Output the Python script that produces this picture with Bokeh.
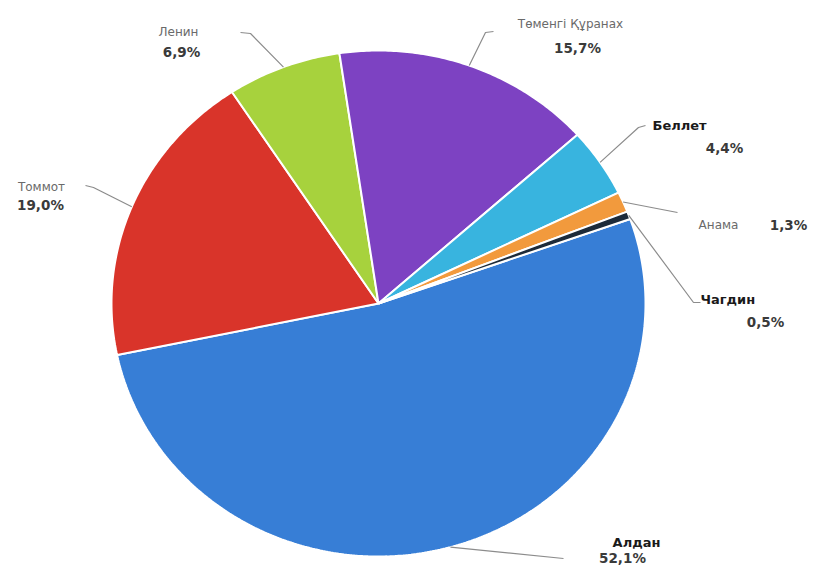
import numpy as np
from bokeh.plotting import figure
from bokeh.models import Range1d
from bokeh.core.properties import value
from bokeh.embed import file_html
from bokeh.resources import INLINE

# ---- data ----
names = ["Алдан", "Томмот", "Ленин", "Төменгі Құранах", "Беллет", "Анама", "Чагдин"]
shares = [52.1, 19.0, 6.9, 15.7, 4.4, 1.3, 0.5]
pct_labels = ["52,1%", "19,0%", "6,9%", "15,7%", "4,4%", "1,3%", "0,5%"]
colors = ["#377ed6", "#d9342a", "#a7d23d", "#7d42c2", "#38b4df", "#f29a3d", "#1d2b3a"]
name_bold = [True, False, False, False, True, False, True]

# ---- layout (pixel coords inside the plot, y down) ----
W, H = 810, 567
CX, CY, RX, RY = 378, 303, 267, 253
START_DEG = 19.5  # first slice starts here, slices go clockwise

# label layout: (name x, name y, name align, pct x, pct y, pct align)
label_pos = [
    (636, 542, "center", 622, 557, "center"),
    (41, 186, "center", 40, 204, "center"),
    (178, 31, "center", 181, 51, "center"),
    (570, 23, "center", 577, 47, "center"),
    (652, 125, "left", 724, 147, "center"),
    (718, 224, "center", 788, 224, "center"),
    (700, 299, "left", 765, 321, "center"),
]
# leader line: points after the start point on the slice edge
leader_pts = [
    [(563, 558)],
    [(93, 187), (85, 185)],
    [(250, 33), (240, 32)],
    [(485, 32), (493, 31)],
    [(638, 127), (645, 125)],
    [(677, 212)],
    [(693, 302), (700, 302)],
]

p = figure(width=W, height=H, output_backend="svg", toolbar_location=None,
           x_range=Range1d(0, W), y_range=Range1d(H, 0), min_border=0)
p.axis.visible = False
p.grid.visible = False
p.outline_line_color = None
p.background_fill_color = "white"
p.border_fill_color = "white"

total = sum(shares)
xs, ys, mids = [], [], []
a = np.radians(START_DEG)
for s in shares:
    span = 2 * np.pi * s / total
    t = np.linspace(a, a - span, max(3, int(span / 0.01)))
    xs.append([CX] + list(CX + RX * np.cos(t)) + [CX])
    ys.append([CY] + list(CY - RY * np.sin(t)) + [CY])
    mids.append(a - span / 2)
    a -= span

p.patches(xs=xs, ys=ys, fill_color=colors, line_color="white", line_width=2)

# leaders
for m, pts in zip(mids, leader_pts):
    sx = CX + RX * np.cos(m)
    sy = CY - RY * np.sin(m)
    lx = [sx] + [q[0] for q in pts]
    ly = [sy] + [q[1] for q in pts]
    p.line(lx, ly, line_color="#8c8c8c", line_width=1.2)

for i, name in enumerate(names):
    nx, ny, na, px_, py_, pa = label_pos[i]
    if name_bold[i]:
        p.text([nx], [ny], text=[name], text_align=na, text_baseline="middle",
               text_font=value("DejaVu Sans"), text_font_size="13px",
               text_font_style="bold", text_color="#1a1a1a")
    else:
        p.text([nx], [ny], text=[name], text_align=na, text_baseline="middle",
               text_font=value("DejaVu Sans"), text_font_size="12px",
               text_color="#6a6a6a")
    p.text([px_], [py_], text=[pct_labels[i]], text_align=pa, text_baseline="middle",
           text_font=value("DejaVu Sans"), text_font_size="13.5px",
           text_font_style="bold", text_color="#3a3a3a")

open("out.html", "w").write(file_html(p, INLINE))
